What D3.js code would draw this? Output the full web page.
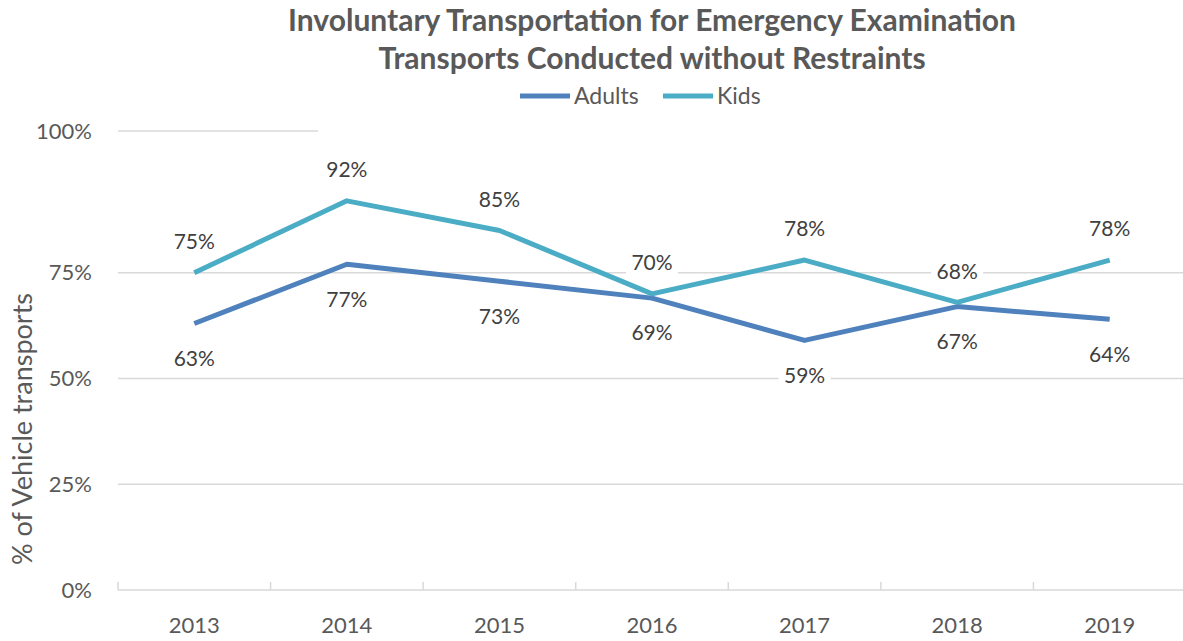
<!DOCTYPE html>
<html>
<head>
<meta charset="utf-8">
<script src="https://cdn.jsdelivr.net/npm/d3@7"></script>
<style>
  body { margin: 0; background: #fff; }
  svg { font-family: Lato, "Open Sans", sans-serif; }
</style>
</head>
<body>
<svg class="board" width="1183" height="641"></svg>
<script>
// chart data
var years = ["2013", "2014", "2015", "2016", "2017", "2018", "2019"];
var adults = [0.63, 0.77, 0.73, 0.69, 0.59, 0.67, 0.64];
var kids = [0.75, 0.92, 0.85, 0.70, 0.78, 0.68, 0.78];
var yTickValues = [0, 0.25, 0.5, 0.75, 1.085];
var yTickLabels = ["0%", "25%", "50%", "75%", "100%"];
var seriesNames = ["Adults", "Kids"];

var svg = d3.select('.board');
var width = 1183, height = 641;
var plotLeft = 118, plotRight = 1186, plotTop = 167, plotBottom = 590;

var x = d3.scaleBand().domain(years).range([plotLeft, plotRight]);
var y = d3.scaleLinear().domain([0, 1]).range([plotBottom, plotTop]);

var colors = { Adults: "#4f81bd", Kids: "#4bacc6" };

// gridlines
svg.selectAll('.grid')
  .data(yTickValues.slice(1))
  .enter()
  .append('line')
  .attr('x1', plotLeft).attr('x2', width)
  .attr('y1', function (d) { return y(d); })
  .attr('y2', function (d) { return y(d); })
  .attr('stroke', '#d9d9d9')
  .attr('stroke-width', 1.5);

// white box behind title / legend (it hides the top gridline)
svg.append('rect')
  .attr('x', 318).attr('y', 0)
  .attr('width', width - 318).attr('height', 136)
  .attr('fill', '#fff');

// x axis
var xAxis = svg.append('g')
  .attr('transform', 'translate(0,' + plotBottom + ')');
xAxis.append('line')
  .attr('x1', plotLeft).attr('x2', width)
  .attr('stroke', '#d9d9d9').attr('stroke-width', 1.5);
var bounds = years.map(function (d) { return x(d); });
xAxis.selectAll('.tickmark')
  .data(bounds)
  .enter()
  .append('line')
  .attr('x1', function (d) { return d; })
  .attr('x2', function (d) { return d; })
  .attr('y1', 0).attr('y2', -8)
  .attr('stroke', '#d9d9d9').attr('stroke-width', 1.5);
xAxis.selectAll('.xlabel')
  .data(years)
  .enter()
  .append('text')
  .attr('x', function (d) { return x(d) + x.bandwidth() / 2; })
  .attr('y', 35)
  .attr('dy', '0.35em')
  .attr('text-anchor', 'middle')
  .attr('fill', '#595959')
  .attr('font-size', '22px')
  .text(function (d) { return d; });

// y axis labels
var yAxis = d3.axisLeft(y)
  .tickValues(yTickValues)
  .tickFormat(function (d, i) { return yTickLabels[i]; })
  .tickSize(0)
  .tickPadding(26);
var gy = svg.append('g')
  .attr('transform', 'translate(' + plotLeft + ',0)')
  .call(yAxis);
gy.select('.domain').remove();
gy.selectAll('text')
  .attr('fill', '#595959')
  .attr('font-size', '22px')
  .attr('font-family', 'Lato, sans-serif');

// y axis title
svg.append('text')
  .attr('transform', 'translate(32,429) rotate(-90)')
  .attr('text-anchor', 'middle')
  .attr('fill', '#595959')
  .attr('font-size', '27px')
  .text('% of Vehicle transports');

// lines
var line = d3.line()
  .x(function (d, i) { return x(years[i]) + x.bandwidth() / 2; })
  .y(function (d) { return y(d); });

var series = [
  { name: "Adults", values: adults, offset: 35 },
  { name: "Kids", values: kids, offset: -31 }
];

series.forEach(function (s) {
  svg.append('path')
    .datum(s.values)
    .attr('d', line)
    .attr('fill', 'none')
    .attr('stroke', colors[s.name])
    .attr('stroke-width', 5)
    .attr('stroke-linejoin', 'round');
});

// data labels (with white background)
series.forEach(function (s) {
  var g = svg.selectAll('.lbl-' + s.name)
    .data(s.values)
    .enter()
    .append('g')
    .attr('transform', function (d, i) {
      return 'translate(' + (x(years[i]) + x.bandwidth() / 2) + ',' + (y(d) + s.offset) + ')';
    });
  g.append('rect')
    .attr('x', -26).attr('y', -13)
    .attr('width', 52).attr('height', 26)
    .attr('fill', '#fff');
  g.append('text')
    .attr('text-anchor', 'middle')
    .attr('dy', '0.35em')
    .attr('fill', '#404040')
    .attr('font-size', '21px')
    .text(function (d) { return Math.round(d * 100) + '%'; });
});

// title
svg.append('text')
  .attr('x', 652).attr('y', 31)
  .attr('text-anchor', 'middle')
  .attr('fill', '#595959')
  .attr('font-size', '30px')
  .attr('font-weight', 'bold')
  .text('Involuntary Transportation for Emergency Examination');
svg.append('text')
  .attr('x', 652).attr('y', 69)
  .attr('text-anchor', 'middle')
  .attr('fill', '#595959')
  .attr('font-size', '30px')
  .attr('font-weight', 'bold')
  .text('Transports Conducted without Restraints');

// legend
var legendX = [520, 663];
var leg = svg.selectAll('.legend')
  .data(seriesNames)
  .enter()
  .append('g')
  .attr('transform', function (d, i) { return 'translate(' + legendX[i] + ',96)'; });
leg.append('line')
  .attr('x1', 0).attr('x2', 50)
  .attr('stroke', function (d) { return colors[d]; })
  .attr('stroke-width', 5);
leg.append('text')
  .attr('x', 54)
  .attr('dy', '0.35em')
  .attr('fill', '#595959')
  .attr('font-size', '23px')
  .text(function (d) { return d; });
</script>
</body>
</html>
